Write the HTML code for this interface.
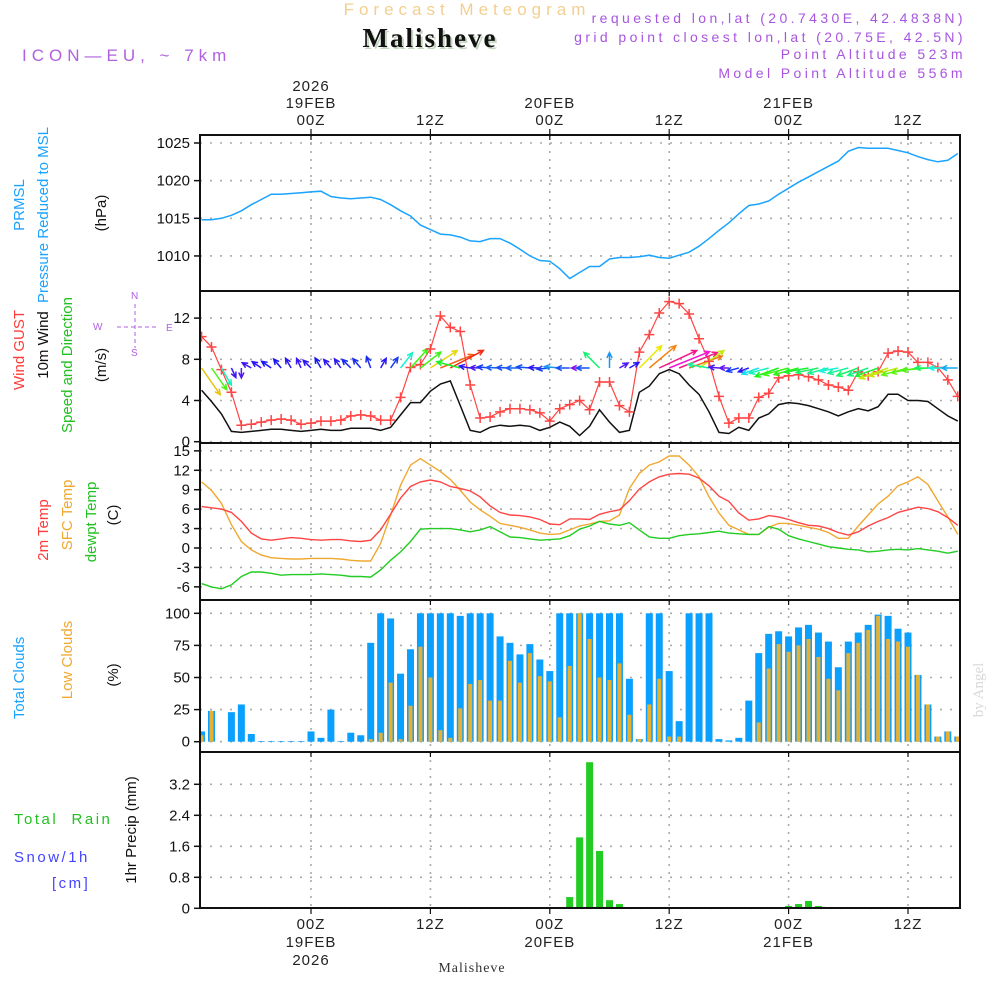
<!DOCTYPE html>
<html><head><meta charset="utf-8">
<style>
html,body{margin:0;padding:0;background:#fff;}
svg{display:block;font-family:"Liberation Sans","DejaVu Sans",sans-serif;}
</style></head>
<body>
<svg id="chart" width="1000" height="1000" viewBox="0 0 1000 1000" xmlns="http://www.w3.org/2000/svg">
<rect x="0" y="0" width="1000" height="1000" fill="#fff"/>
<text x="467" y="15" text-anchor="middle" font-size="17" letter-spacing="5" fill="#f3cf8f">Forecast Meteogram</text>
<text x="432" y="49" text-anchor="middle" font-family="Liberation Serif, serif" font-weight="bold" font-size="27" letter-spacing="2" fill="#c5d6c0">Malisheve</text>
<text x="430" y="47" text-anchor="middle" font-family="Liberation Serif, serif" font-weight="bold" font-size="27" letter-spacing="2" fill="#111">Malisheve</text>
<text x="22" y="61" font-size="17" letter-spacing="5" fill="#b060e0">ICON—EU, ~ 7km</text>
<g font-size="14" letter-spacing="3.4" fill="#a855e0" text-anchor="end">
<text x="966" y="23">requested lon,lat (20.7430E, 42.4838N)</text>
<text x="966" y="42">grid point closest lon,lat (20.75E, 42.5N)</text>
<text x="966" y="59">Point Altitude 523m</text>
<text x="966" y="78">Model Point Altitude 556m</text>
</g>
<g id="grid"></g>
<g id="marks"></g>
<g id="frames"></g>
<g id="axes" font-size="15" fill="#111"></g>
<g font-size="15">
<text transform="translate(24,205) rotate(-90)" text-anchor="middle" fill="#1aa3ff">PRMSL</text>
<text transform="translate(48,215) rotate(-90)" text-anchor="middle" fill="#1aa3ff">Pressure Reduced to MSL</text>
<text transform="translate(106,213) rotate(-90)" text-anchor="middle" fill="#111">(hPa)</text>
<text transform="translate(24,350) rotate(-90)" text-anchor="middle" fill="#ff3b3b">Wind GUST</text>
<text transform="translate(48,345) rotate(-90)" text-anchor="middle" fill="#111">10m Wind</text>
<text transform="translate(72,365) rotate(-90)" text-anchor="middle" fill="#22c022">Speed and Direction</text>
<text transform="translate(106,365) rotate(-90)" text-anchor="middle" fill="#111">(m/s)</text>
<text transform="translate(48,530) rotate(-90)" text-anchor="middle" fill="#ff3b3b">2m Temp</text>
<text transform="translate(72,515) rotate(-90)" text-anchor="middle" fill="#f0a830">SFC Temp</text>
<text transform="translate(96,522) rotate(-90)" text-anchor="middle" fill="#22c022">dewpt Temp</text>
<text transform="translate(118,515) rotate(-90)" text-anchor="middle" fill="#111">(C)</text>
<text transform="translate(24,678) rotate(-90)" text-anchor="middle" fill="#1aa3ff">Total Clouds</text>
<text transform="translate(72,660) rotate(-90)" text-anchor="middle" fill="#f0a830">Low Clouds</text>
<text transform="translate(118,675) rotate(-90)" text-anchor="middle" fill="#111">(%)</text>
<text transform="translate(136,830) rotate(-90)" text-anchor="middle" fill="#111">1hr Precip (mm)</text>
<text x="14" y="824" fill="#22c022" letter-spacing="2.5" xml:space="preserve">Total  Rain</text>
<text x="14" y="862" fill="#4444ff" letter-spacing="2.5">Snow/1h</text>
<text x="52" y="888" fill="#4444ff" letter-spacing="2.5">[cm]</text>
</g>
<g fill="#b060e0" font-size="10">
<text x="93" y="330">W</text><text x="166" y="331">E</text>
<text x="131" y="299">N</text><text x="131" y="356">S</text>
<line x1="117" y1="327" x2="157" y2="327" stroke="#b060e0" stroke-dasharray="4,3"/>
<line x1="135" y1="304" x2="135" y2="348" stroke="#b060e0" stroke-dasharray="4,3"/>
</g>
<text transform="translate(983,690) rotate(-90)" text-anchor="middle" font-family="Liberation Serif, serif" font-size="15" fill="#d8d8d8">by Angel</text>
<text x="472" y="972" text-anchor="middle" font-family="Liberation Serif, serif" font-size="14" fill="#333" letter-spacing="1">Malisheve</text>
</svg>
<script>
const hours = [];
for (let h = -11; h <= 65; h++) hours.push(h);
const pressure = [1014.8,1014.8,1015.0,1015.4,1016.0,1016.8,1017.5,1018.2,1018.2,1018.3,1018.4,
1018.5,1018.6,1017.9,1017.7,1017.6,1017.7,1017.8,1017.5,1016.8,1016.0,1015.3,1014.1,1013.5,1012.9,1012.8,1012.5,1012.0,1011.9,1012.3,1012.3,1011.7,1010.9,1010.0,1009.4,1009.3,1008.3,
1007.0,1007.8,1008.6,1008.6,1009.6,1009.8,1009.8,1009.9,1010.1,1009.8,1009.7,1010.1,1010.5,1011.3,1012.3,1013.4,1014.4,1015.6,1016.7,1016.9,1017.3,1018.2,1019.0,1019.8,1020.5,1021.2,1021.9,1022.6,1023.9,1024.4,1024.3,1024.3,1024.3,1024.0,1023.7,1023.2,1022.8,1022.5,1022.7,1023.6];
const gust = [10.2,9.2,7.0,4.8,1.6,1.7,1.9,2.1,2.2,2.1,1.7,
1.8,2.0,2.0,2.1,2.5,2.6,2.5,2.1,2.1,4.3,7.2,7.5,9.0,12.2,11.1,10.7,5.5,2.3,2.4,2.9,3.2,3.2,3.1,2.8,2.0,3.2,
3.6,4.0,3.1,5.8,5.8,3.5,2.9,8.7,10.4,12.5,13.6,13.4,12.4,10.0,7.8,4.4,1.8,2.3,2.3,4.3,4.7,6.2,6.4,6.5,6.3,6.0,5.5,5.3,5.0,6.8,6.4,6.8,8.6,8.8,8.7,7.7,7.7,7.2,6.0,4.4];
const wind = [5.0,3.9,2.7,1.0,0.9,1.0,1.1,1.2,1.2,1.1,1.0,
1.1,1.2,1.1,1.1,1.3,1.3,1.3,1.1,1.4,2.6,3.8,3.8,4.9,5.6,5.9,3.5,1.1,0.9,1.4,1.6,1.5,1.6,1.5,1.1,1.4,1.9,
1.5,0.6,1.5,3.1,1.9,0.9,1.1,4.8,5.4,6.6,7.0,6.6,5.5,4.6,2.9,0.9,0.8,1.4,1.1,2.3,2.7,3.6,3.8,3.7,3.5,3.2,2.9,2.5,2.9,3.2,3.0,3.4,4.6,4.6,4.0,4.0,3.9,3.2,2.5,2.0];
const windDir = [-55,-55,-60,-65,-90,150,145,145,130,120,115,
135,120,130,125,135,130,110,60,55,52,48,38,33,22,28,165,170,178,175,178,178,180,175,178,185,175,
180,180,180,135,90,30,30,45,40,25,22,22,20,35,170,175,180,195,200,200,195,200,195,195,190,192,195,190,195,200,200,200,200,195,195,190,185,180,180,180];
const temp2m = [6.4,6.2,6.0,5.5,4.1,2.3,1.4,1.2,1.4,1.6,1.5,
1.3,1.2,1.3,1.3,1.1,1.0,1.2,2.8,5.2,7.7,9.5,10.2,10.5,10.2,9.5,9.2,8.8,7.9,6.5,5.5,5.1,5.0,4.8,4.4,3.7,3.6,
4.5,4.5,4.4,5.2,5.6,5.9,7.3,9.1,10.2,11.0,11.4,11.5,11.4,10.8,9.6,8.0,7.2,5.4,4.3,4.5,5.0,4.8,4.4,3.9,3.5,3.4,3.0,2.4,2.0,2.5,3.4,4.1,4.7,5.5,5.9,6.3,6.1,5.6,4.7,3.5];
const tempSfc = [10.2,8.9,6.9,3.6,1.0,-0.3,-1.1,-1.5,-1.6,-1.7,-1.7,
-1.6,-1.6,-1.6,-1.7,-1.9,-2.0,-2.0,0.7,5.1,9.7,12.8,13.8,12.8,11.8,10.6,8.9,7.1,5.9,4.9,3.8,3.5,3.2,2.8,2.3,2.1,2.2,
2.8,3.4,3.7,4.1,4.2,5.1,9.2,11.5,12.8,13.3,14.2,14.2,12.8,11.0,7.9,5.4,3.5,2.8,2.1,2.1,3.2,3.8,3.8,3.5,3.2,2.9,2.4,1.5,1.5,3.4,5.1,6.8,8.0,9.6,10.2,11.0,9.8,7.3,4.8,2.1];
const dewpt = [-5.5,-6.0,-6.3,-5.7,-4.4,-3.7,-3.7,-3.9,-4.2,-4.1,-4.1,
-4.1,-4.0,-4.1,-4.2,-4.4,-4.4,-4.5,-3.4,-1.9,-0.6,1.0,2.9,3.0,3.0,3.0,2.8,2.5,2.8,3.3,2.5,1.7,1.6,1.4,1.2,1.3,1.4,
1.9,2.9,3.4,4.1,3.7,3.5,3.9,2.8,1.7,1.5,1.5,1.9,2.1,2.2,2.4,2.6,2.3,2.2,2.1,2.1,3.3,2.9,1.9,1.4,1.0,0.6,0.2,0.0,-0.2,-0.3,-0.6,-0.5,-0.3,-0.2,-0.3,-0.1,-0.3,-0.5,-0.8,-0.5];
const totalClouds = [8,24,0,23,29,6,0.5,0.5,0.5,0.5,0.5,
8,3,25,0.5,7,5,77,100,96,53,72,100,100,100,100,98,100,100,100,82,77,68,76,64,55,100,
100,100,100,100,100,100,49,2,100,100,55,16,100,100,100,2,1,3,32,69,84,86,82,89,91,85,78,58,78,85,91,99,98,88,85,52,29,4,8,4];
const lowClouds = [5,24,0,0,0,0,0,0,0,0,0,
0,0,0,0,0,0,2,7,46,2,28,74,50,9,3,26,45,48,32,32,63,46,69,51,47,19,
59,100,80,50,48,61,21,2,29,49,4,4,0,0,0,0,0,0,0,15,57,76,70,75,80,66,49,40,69,77,87,98,80,78,74,52,29,4,8,4];
const precip = [0,0,0,0,0,0,0,0,0,0,0,
0,0,0,0,0,0,0,0,0,0,0,0,0,0,0,0,0,0,0,0,0,0,0,0,0,0,
0.29,1.83,3.77,1.48,0.21,0.11,0,0,0,0,0,0,0,0,0,0,0,0,0,0,0,0,0.06,0.11,0.19,0.06,0,0,0,0,0,0,0,0,0,0,0,0,0,0];
const pressTicks = [1010,1015,1020,1025];
const windTicks = [0,4,8,12];
const tempTicks = [-6,-3,0,3,6,9,12,15];
const cloudTicks = [0,25,50,75,100];
const precipTicks = [0,0.8,1.6,2.4,3.2];
const timeTicks = [0,12,24,36,48,60];
const timeLabelsTop = [["2026","19FEB","00Z"],["12Z"],["20FEB","00Z"],["12Z"],["21FEB","00Z"],["12Z"]];
const timeLabelsBottom = [["00Z","19FEB","2026"],["12Z"],["00Z","20FEB"],["12Z"],["00Z","21FEB"],["12Z"]];

const NS = "http://www.w3.org/2000/svg";
const L = 200, R = 960;
const X = h => 311 + h * 9.95;
const panels = [
 {top:135,bot:291,y:p=>143+(1025-p)*7.53,ticks:pressTicks,name:"pressure"},
 {top:291,bot:443,y:v=>441.7-v*10.3,ticks:windTicks,name:"wind"},
 {top:443,bot:600,y:t=>548-t*6.476,ticks:tempTicks,name:"temperature"},
 {top:600,bot:752,y:c=>741.7-c*1.284,ticks:cloudTicks,name:"clouds"},
 {top:752,bot:908,y:m=>908.3-m*38.75,ticks:precipTicks,name:"precip"}];
function mk(tag, attrs, parent){const e=document.createElementNS(NS,tag);for(const k in attrs)e.setAttribute(k,attrs[k]);parent.appendChild(e);return e;}
const grid=document.getElementById('grid'), marks=document.getElementById('marks'), frames=document.getElementById('frames'), axes=document.getElementById('axes');
const clip = mk('clipPath',{id:'plotclip'},mk('defs',{},document.getElementById('chart')));
mk('rect',{x:L,y:135,width:R-L,height:773},clip);
marks.setAttribute('clip-path','url(#plotclip)');

panels.forEach(p=>{
  p.ticks.forEach((t,i)=>{
    const y=p.y(t);
    const gl=mk('line',{x1:L,x2:R,y1:y,y2:y,stroke:'#aaa','stroke-width':1.6,'stroke-dasharray':'2,8'},grid);
    
    
    mk('line',{x1:L-6,x2:L,y1:y,y2:y,stroke:'#111','stroke-width':1.5},axes);
    const tx=mk('text',{x:L-10,y:y+5,'text-anchor':'end'},axes);
    tx.textContent = p.name==='precip' && t===0 ? '0' : String(t);
    
    
  });
  timeTicks.forEach(h=>{
    const vl=mk('line',{x1:X(h),x2:X(h),y1:p.top,y2:p.bot,stroke:'#aaa','stroke-width':1.6,'stroke-dasharray':'2,6'},grid);
    
    
    mk('line',{x1:X(h),x2:X(h),y1:p.top,y2:p.top+5,stroke:'#111','stroke-width':1.2},axes);
  });
  const fr=mk('rect',{x:L,y:p.top,width:R-L,height:p.bot-p.top,fill:'none',stroke:'#111','stroke-width':2},frames);
  
  
});
timeTicks.forEach((h,i)=>{
  mk('line',{x1:X(h),x2:X(h),y1:129,y2:135,stroke:'#111','stroke-width':1.2},axes);
  mk('line',{x1:X(h),x2:X(h),y1:908,y2:914,stroke:'#111','stroke-width':1.2},axes);
  const top=timeLabelsTop[i];
  top.forEach((s,j)=>{
    const t=mk('text',{x:X(h),y:125-(top.length-1-j)*17,'text-anchor':'middle','letter-spacing':'1',fill:'#222'},axes);
    t.textContent=s;
    
    
  });
  timeLabelsBottom[i].forEach((s,j)=>{
    const t=mk('text',{x:X(h),y:929+j*18,'text-anchor':'middle','letter-spacing':'1',fill:'#222'},axes);
    t.textContent=s;
    
    
  });
});

function line(arr, yf, color, name, w){
  const pts=hours.map((h,i)=>X(h).toFixed(1)+','+yf(arr[i]).toFixed(1)).join(' ');
  const pl=mk('polyline',{points:pts,fill:'none',stroke:color,'stroke-width':w||1.4},marks);
  
  
}
line(pressure, panels[0].y, '#1aa3ff', 'pressure-line', 1.5);
hours.forEach((h,i)=>{
  const y0=panels[3].y(0);
  const yb=panels[3].y(totalClouds[i]);
  const b=mk('rect',{x:X(h)-3.5,y:yb,width:7,height:y0-yb,fill:'#0aa0ff'},marks);
  
  
  const yl=panels[3].y(lowClouds[i]);
  if(lowClouds[i]>0){
    const o=mk('rect',{x:X(h)-2,y:yl,width:4,height:y0-yl,fill:'#e8b030'},marks);
    
    
  }
  if(precip[i]>0){
    const yp=panels[4].y(precip[i]);
    const pb=mk('rect',{x:X(h)-3.5,y:yp,width:7,height:panels[4].y(0)-yp,fill:'#22cc22'},marks);
    
    
  }
});
line(tempSfc, panels[2].y, '#f0a830', 'sfc-temp-line');
line(temp2m, panels[2].y, '#ff4444', 'temp-2m-line');
line(dewpt, panels[2].y, '#22cc22', 'dewpoint-line');
line(wind, panels[1].y, '#111', 'wind-speed-line', 1.5);
line(gust, panels[1].y, '#ff4444', 'gust-line', 1.2);
hours.forEach((h,i)=>{
  const x=X(h), y=panels[1].y(gust[i]);
  const g=mk('path',{d:`M${x-5},${y}H${x+5}M${x},${y-5}V${y+5}`,stroke:'#ff4444','stroke-width':1.5,fill:'none'},marks);
  
  
  const s=wind[i], a=windDir[i]*Math.PI/180, len=5+5.5*s;
  const x2=x+len*Math.cos(a), y2=368-len*Math.sin(a);
  let hue=300-50*s; if(hue<0)hue+=360;
  const col=`hsl(${hue},90%,${hue>40&&hue<80?48:52}%)`;
  const ha=0.45, hl=6;
  const b1x=x2-hl*Math.cos(a-ha), b1y=y2+hl*Math.sin(a-ha);
  const b2x=x2-hl*Math.cos(a+ha), b2y=y2+hl*Math.sin(a+ha);
  const ar=mk('path',{d:`M${x},368L${x2},${y2}M${b1x},${b1y}L${x2},${y2}L${b2x},${b2y}`,stroke:col,'stroke-width':1.5,fill:'none'},marks);
  
  
});
</script>
</body></html>
